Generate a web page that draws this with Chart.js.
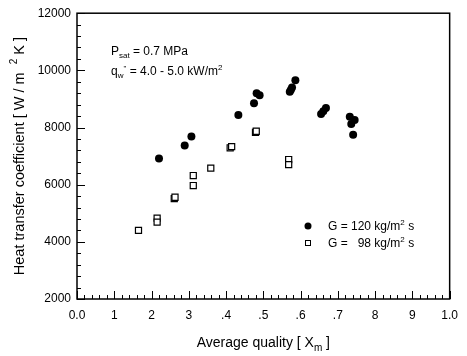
<!DOCTYPE html>
<html>
<head>
<meta charset="utf-8">
<script src="https://cdn.jsdelivr.net/npm/chart.js@4/dist/chart.umd.min.js"></script>
<style>
  html, body { margin: 0; padding: 0; background: #fff; }
  #wrap { width: 467px; height: 356px; }
</style>
</head>
<body>
<div id="wrap"><canvas id="htcChart"></canvas></div>
<script>
// G = 120 kg/m2 s (filled circles)
const highQ = [0.220, 0.289, 0.307, 0.433, 0.475, 0.482, 0.490, 0.571, 0.574, 0.577, 0.586, 0.655, 0.661, 0.668, 0.732, 0.745, 0.736, 0.741];
const highH = [6920, 7370, 7690, 8440, 8850, 9200, 9130, 9250, 9320, 9400, 9650, 8470, 8570, 8680, 8380, 8260, 8120, 7750];
// G = 98 kg/m2 s (open squares)
const lowQ = [0.165, 0.215, 0.215, 0.261, 0.263, 0.312, 0.312, 0.359, 0.411, 0.415, 0.479, 0.481, 0.568, 0.568];
const lowH = [4400, 4830, 4690, 5510, 5560, 6320, 5970, 6580, 7290, 7330, 7830, 7870, 6880, 6700];
// tick labels as printed
const xLabels = ['0.0', '1', '2', '3', '.4', '.5', '.6', '.7', '8', '9', '1.0'];
const yLabels = ['2000', '4000', '6000', '8000', '10000', '12000'];

const FONT = '"Liberation Sans", Arial, sans-serif';

function toPoints(xs, ys) {
  return xs.map((v, i) => ({ x: v, y: ys[i] }));
}

// draw a line of text made of runs with different sizes / offsets (sub & superscripts)
function drawRuns(ctx, x, y, runs, align) {
  let total = 0;
  runs.forEach(r => { ctx.font = r.size + 'px ' + FONT; total += ctx.measureText(r.t).width; });
  let cx = align === 'center' ? x - total / 2 : x;
  ctx.textAlign = 'left';
  ctx.textBaseline = 'alphabetic';
  runs.forEach(r => {
    ctx.font = r.size + 'px ' + FONT;
    ctx.fillText(r.t, cx, y + (r.dy || 0));
    cx += ctx.measureText(r.t).width;
  });
}

const overlay = {
  id: 'overlay',
  afterDraw(chart) {
    const { ctx, chartArea: a, scales: { x, y } } = chart;
    ctx.save();
    ctx.strokeStyle = '#000';
    ctx.fillStyle = '#000';

    // frame
    ctx.lineWidth = 1.5;
    ctx.strokeRect(a.left, a.top, a.right - a.left, a.bottom - a.top);

    // inward ticks
    ctx.lineWidth = 1;
    ctx.beginPath();
    for (let i = 0; i <= 50; i++) {
      const px = Math.round(x.getPixelForValue(i * 0.02)) + 0.5;
      const len = i % 5 === 0 ? 8 : 4;
      ctx.moveTo(px, a.bottom);
      ctx.lineTo(px, a.bottom - len);
    }
    for (let i = 0; i <= 25; i++) {
      const py = Math.round(y.getPixelForValue(2000 + i * 400)) + 0.5;
      const len = i % 5 === 0 ? 8 : 4;
      ctx.moveTo(a.left, py);
      ctx.lineTo(a.left + len, py);
    }
    ctx.stroke();

    // axis titles
    const midX = (a.left + a.right) / 2;
    const midY = (a.top + a.bottom) / 2;
    drawRuns(ctx, midX, 347, [
      { t: 'Average quality [ X', size: 14 },
      { t: 'm', size: 10, dy: 4 },
      { t: ' ]', size: 14 }
    ], 'center');

    ctx.save();
    ctx.translate(24, midY);
    ctx.rotate(-Math.PI / 2);
    drawRuns(ctx, 0, 0, [
      { t: 'Heat transfer coefficient [ W / m  ', size: 14.5 },
      { t: '2', size: 10, dy: -7 },
      { t: ' K ]', size: 14.5 }
    ], 'center');
    ctx.restore();

    // conditions note
    drawRuns(ctx, 111, 55, [
      { t: 'P', size: 12 },
      { t: 'sat', size: 8, dy: 3 },
      { t: ' = 0.7 MPa', size: 12 }
    ], 'left');
    drawRuns(ctx, 111, 75, [
      { t: 'q', size: 12 },
      { t: 'w', size: 8, dy: 3 },
      { t: '"', size: 8, dy: -4 },
      { t: ' = 4.0 - 5.0 kW/m', size: 12 },
      { t: '2', size: 8, dy: -5 }
    ], 'left');

    // legend
    ctx.beginPath();
    ctx.arc(308, 226, 3.5, 0, Math.PI * 2);
    ctx.fill();
    drawRuns(ctx, 328, 230, [
      { t: 'G = 120 kg/m', size: 12 },
      { t: '2', size: 8, dy: -5 },
      { t: ' s', size: 12 }
    ], 'left');
    ctx.lineWidth = 1;
    ctx.strokeRect(305.5, 240.5, 5, 5);
    drawRuns(ctx, 328, 247, [
      { t: 'G =   98 kg/m', size: 12 },
      { t: '2', size: 8, dy: -5 },
      { t: ' s', size: 12 }
    ], 'left');

    ctx.restore();
  }
};

const ctx = document.getElementById('htcChart').getContext('2d');
const htcChart = new Chart(ctx, {
  type: 'scatter',
  data: {
    datasets: [{
      label: 'G = 120 kg/m2 s',
      data: toPoints(highQ, highH),
      pointStyle: 'circle',
      pointRadius: 4,
      backgroundColor: '#000',
      borderColor: '#000',
      borderWidth: 0
    }, {
      label: 'G = 98 kg/m2 s',
      data: toPoints(lowQ, lowH),
      pointStyle: 'rect',
      pointRadius: 4.3,
      backgroundColor: '#fff',
      borderColor: '#000',
      borderWidth: 1.2
    }]
  },
  options: {
    responsive: true,
    maintainAspectRatio: false,
    animation: false,
    layout: { padding: { top: 12, right: 8, left: 0, bottom: 0 } },
    plugins: {
      legend: { display: false },
      tooltip: { enabled: false }
    },
    scales: {
      x: {
        type: 'linear',
        min: 0,
        max: 1,
        grid: { display: false, drawTicks: false },
        border: { display: false },
        ticks: {
          stepSize: 0.1,
          padding: 9,
          color: '#000',
          font: { family: FONT, size: 12 },
          callback: v => xLabels[Math.round(v * 10)]
        },
        afterFit: s => { s.height = 57; }
      },
      y: {
        min: 2000,
        max: 12000,
        grid: { display: false, drawTicks: false },
        border: { display: false },
        ticks: {
          stepSize: 2000,
          padding: 6,
          color: '#000',
          font: { family: FONT, size: 12 },
          callback: v => yLabels[Math.round((v - 2000) / 2000)]
        },
        afterFit: s => { s.width = 77; }
      }
    }
  },
  plugins: [overlay]
});
</script>
</body>
</html>
